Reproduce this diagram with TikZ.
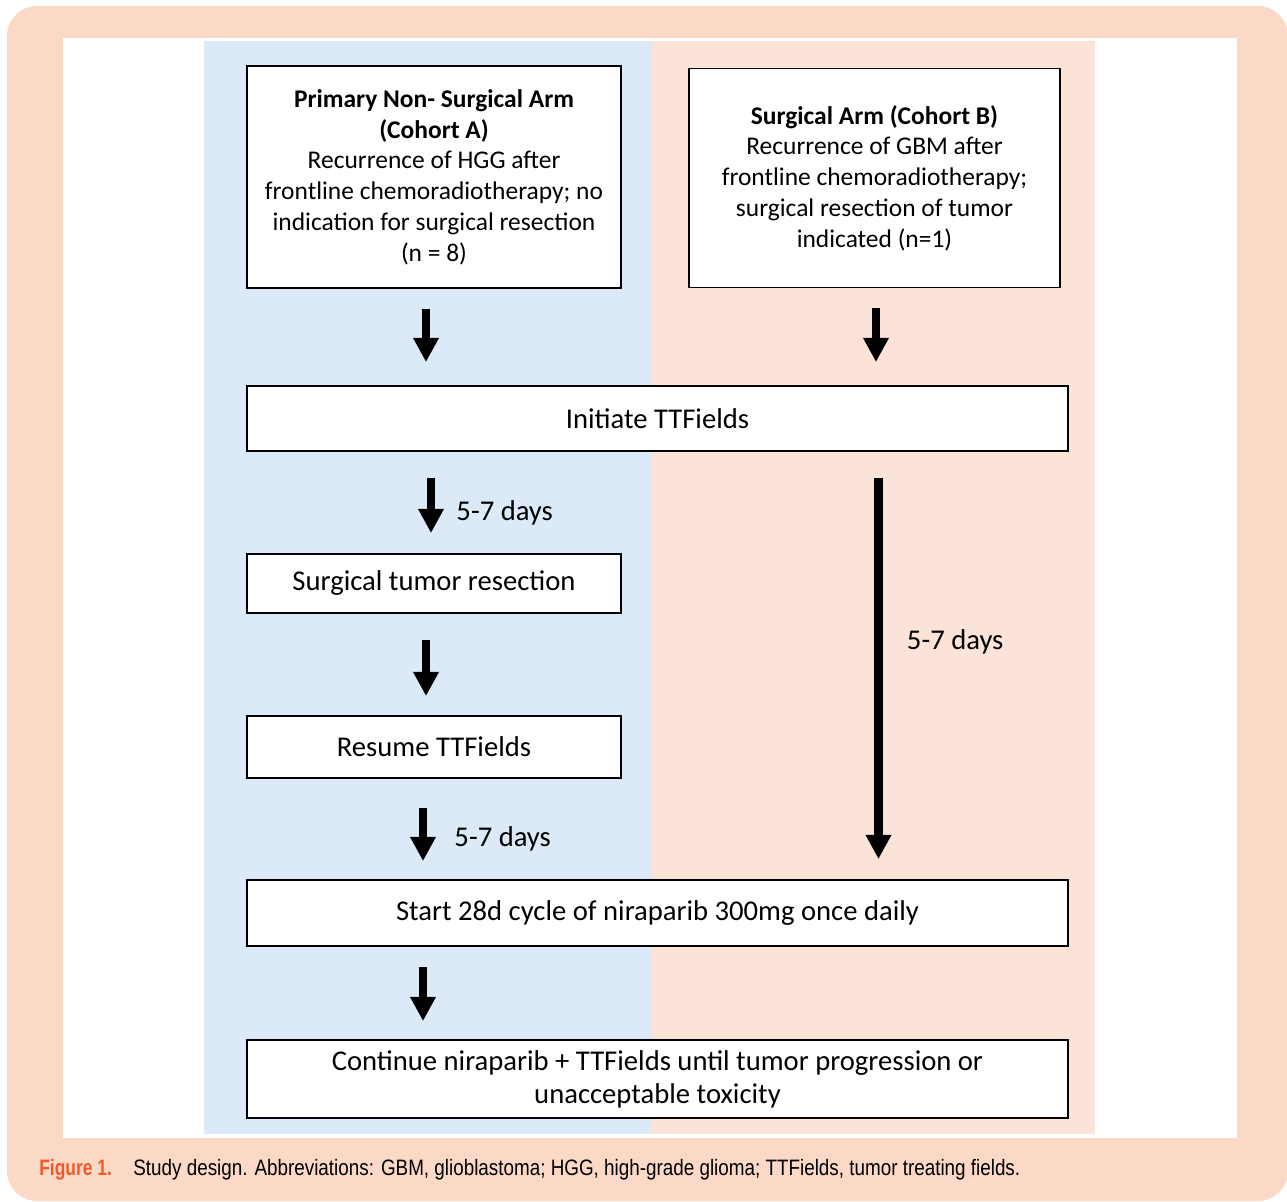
\documentclass[tikz,border=0pt]{standalone}
\usepackage{fontspec}
\setmainfont{Carlito}
\newfontfamily\capfont[FakeStretch=0.845]{Liberation Sans}
\newfontfamily\capboldfont[FakeStretch=0.78]{Liberation Sans Bold}
\usetikzlibrary{arrows.meta}
\definecolor{frameorange}{RGB}{252,217,198}
\definecolor{armblue}{RGB}{220,233,246}
\definecolor{armpink}{RGB}{251,227,215}
\definecolor{figred}{RGB}{240,90,40}
\tikzset{
  stagebox/.style={draw=black, line width=1.1pt, fill=white, align=center, inner sep=0pt},
  cohort/.style={stagebox, font=\fontsize{14.5}{17.5}\selectfont},
  single/.style={stagebox, font=\fontsize{16.3}{18.8}\selectfont},
  bigarrow/.style={line width=5.1pt, -{Triangle[width=13.7pt, length=13.7pt]}, shorten <=20*0.02cm, shorten >=23*0.02cm},
  days/.style={font=\fontsize{16.3}{18.8}\selectfont, inner sep=0pt, anchor=west}
}
\begin{document}
\begin{tikzpicture}[x=0.02cm, y=-0.02cm]
\useasboundingbox (0,0) rectangle (1287,1201);
\fill[frameorange, rounded corners=0.6cm] (7,6) rectangle (1288,1201);
\fill[white] (63,38) rectangle (1237,1138);
\fill[armblue] (204,41) rectangle (652,1134);
\fill[armpink] (652,41) rectangle (1095,1134);

\node[cohort, minimum width=7.48cm, minimum height=4.44cm] (cohortA) at (434,177)
  {\textbf{Primary Non- Surgical Arm}\\ \textbf{(Cohort A)}\\ Recurrence of HGG after\\
   frontline chemoradiotherapy; no\\ indication for surgical resection\\ (n = 8)};
\node[cohort, minimum width=7.42cm, minimum height=4.38cm] (cohortB) at (874.5,178)
  {\textbf{Surgical Arm (Cohort B)}\\ Recurrence of GBM after\\ frontline chemoradiotherapy;\\
   surgical resection of tumor\\ indicated (n=1)};
\node[single, minimum width=16.42cm, minimum height=1.3cm] (initiate) at (657.5,418.5) {Initiate TTFields};
\node[single, minimum width=7.48cm, minimum height=1.18cm] (resect) at (434,583.5) {Surgical tumor resection};
\node[single, minimum width=7.48cm, minimum height=1.24cm] (resume) at (434,747) {Resume TTFields};
\node[single, minimum width=16.42cm, minimum height=1.32cm] (niraparib) at (657.5,913) {Start 28d cycle of niraparib 300mg once daily};
\node[single, minimum width=16.42cm, minimum height=1.56cm] (continue) at (657.5,1079)
  {Continue niraparib + TTFields until tumor progression or\\ unacceptable toxicity};

\draw[bigarrow] ([xshift=-0.16cm]cohortA.south) -- ([xshift=-0.16cm]cohortA.south |- initiate.north);
\draw[bigarrow] ([xshift=0.03cm]cohortB.south) -- ([xshift=0.03cm]cohortB.south |- initiate.north);
\draw[bigarrow, shorten <=26*0.02cm, shorten >=20*0.02cm] ([xshift=-0.06cm]resect.north |- initiate.south) -- ([xshift=-0.06cm]resect.north)
  node[days, midway, xshift=0.42cm, yshift=-0.2cm] {5-7 days};
\draw[bigarrow, shorten <=26*0.02cm, shorten >=20*0.02cm] ([xshift=0.08cm]cohortB.south |- initiate.south) -- ([xshift=0.08cm]cohortB.south |- niraparib.north)
  node[days, pos=0.43, xshift=0.48cm, yshift=-0.12cm] {5-7 days};
\draw[bigarrow, shorten <=26*0.02cm, shorten >=19*0.02cm] ([xshift=-0.16cm]resect.south) -- ([xshift=-0.16cm]resume.north);
\draw[bigarrow, shorten <=29*0.02cm, shorten >=18*0.02cm] ([xshift=-0.22cm]resume.south) -- ([xshift=-0.22cm]resume.south |- niraparib.north)
  node[days, midway, xshift=0.54cm, yshift=-0.19cm] {5-7 days};
\draw[bigarrow, shorten <=20*0.02cm, shorten >=18*0.02cm] ([xshift=-0.22cm]resume.south |- niraparib.south) -- ([xshift=-0.22cm]resume.south |- continue.north);

\node[anchor=west, inner sep=0pt, font=\capboldfont\fontsize{12.7}{14}\selectfont, text=figred] (figlabel) at (39,1170) {Figure 1.};
\node[anchor=west, inner sep=0pt, font=\capfont\fontsize{12.7}{14}\selectfont] (figtext) at (133,1170)
  {Study design. Abbreviations: GBM, glioblastoma; HGG, high-grade glioma; TTFields, tumor treating fields.};
\end{tikzpicture}
\end{document}
